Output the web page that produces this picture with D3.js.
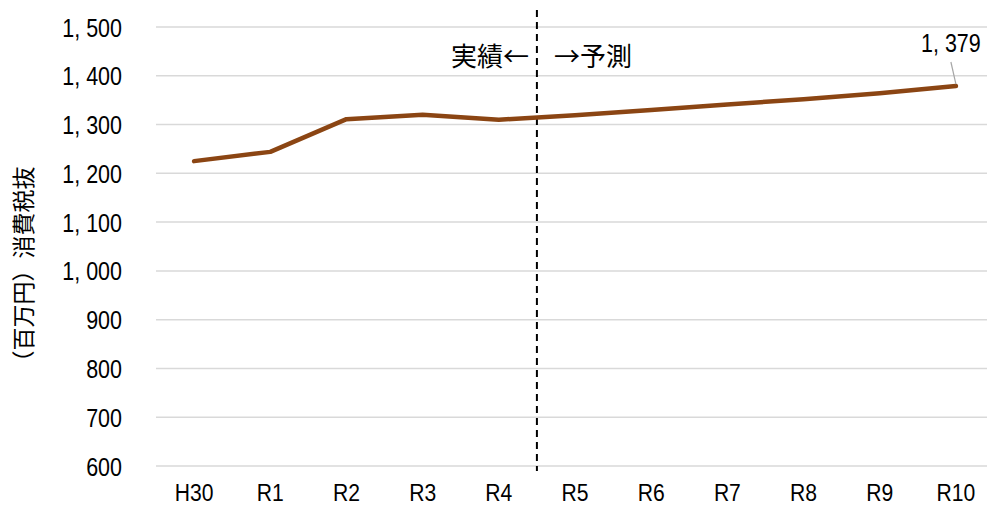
<!DOCTYPE html>
<html><head><meta charset="utf-8">
<script src="https://cdn.jsdelivr.net/npm/d3@7"></script>
<style>
body{margin:0;background:#fff;}
svg{display:block;}
</style></head>
<body>
<svg id="chart" width="987" height="506"></svg>
<script>
const categories = ["H30","R1","R2","R3","R4","R5","R6","R7","R8","R9","R10"];
const values = [1225,1244,1311,1320,1310,1319,1330,1341,1352,1364,1379];
const yTicks = [600,700,800,900,1000,1100,1200,1300,1400,1500];
const yTitle = "（百万円）消費税抜";
const actualLabel = "実績←";
const forecastLabel = "→予測";

(function(){
const svg = d3.select("#chart");
const numFont = "'Liberation Sans',Arial,sans-serif";
const numSize = 25, sx = 0.86;
const jpFont = "'Noto Sans CJK JP',sans-serif";
const mLeft = 156, mRight = 994, mTop = 27, mBottom = 466;
const fmt = d => d3.format(",")(d).replace(",", ", ");

const x = d3.scaleBand().domain(categories).range([mLeft, mRight]);
const y = d3.scaleLinear().domain([600,1500]).range([mBottom, mTop]);

// gridlines
svg.append("g").selectAll("line").data(yTicks).join("line")
  .attr("x1", mLeft).attr("x2", mRight)
  .attr("y1", d=>y(d)).attr("y2", d=>y(d))
  .attr("stroke", "#d9d9d9").attr("stroke-width", 1.5);

// y axis labels
const yAxis = svg.append("g").attr("transform", `translate(${mLeft},0)`)
  .call(d3.axisLeft(y).tickValues(yTicks).tickSize(0).tickPadding(34).tickFormat(fmt));
yAxis.select(".domain").remove();
yAxis.selectAll("text")
  .attr("x", 0).attr("dy", "0.36em")
  .attr("transform", `translate(-34,0) scale(${sx},1)`)
  .attr("font-family", numFont).attr("font-size", numSize).attr("fill", "#000");

// x axis labels
const xAxis = svg.append("g").attr("transform", `translate(0,${mBottom})`)
  .call(d3.axisBottom(x).tickSize(0));
xAxis.select(".domain").remove();
xAxis.selectAll("text")
  .attr("y", 0).attr("dy", 0)
  .attr("transform", `translate(0,35) scale(0.88,1)`)
  .attr("font-family", numFont).attr("font-size", 24).attr("fill", "#000");

// y title
svg.append("text")
  .attr("transform", `translate(32,270) rotate(-90)`)
  .attr("text-anchor", "middle")
  .attr("font-family", jpFont).attr("font-size", 23).attr("fill", "#000")
  .text(yTitle);

// divider
const divX = (x("R4") + x.bandwidth()/2 + x("R5") + x.bandwidth()/2) / 2;
svg.append("line")
  .attr("x1", divX).attr("x2", divX).attr("y1", 10).attr("y2", 471)
  .attr("stroke", "#000").attr("stroke-width", 2).attr("stroke-dasharray", "7,5");

svg.append("text").attr("x", divX - 8).attr("y", 66).attr("text-anchor", "end")
  .attr("font-family", jpFont).attr("font-size", 26).attr("fill", "#000").text(actualLabel);
svg.append("text").attr("x", divX + 17).attr("y", 66).attr("text-anchor", "start")
  .attr("font-family", jpFont).attr("font-size", 26).attr("fill", "#000").text(forecastLabel);

// line
const line = d3.line().x((d,i)=>x(categories[i]) + x.bandwidth()/2).y(d=>y(d));
svg.append("path").datum(values)
  .attr("d", line).attr("fill", "none")
  .attr("stroke", "#8B4513").attr("stroke-width", 4.5).attr("stroke-linejoin", "round").attr("stroke-linecap", "round");

// last label with leader
const lx = x("R10") + x.bandwidth()/2, ly = y(values[values.length-1]);
svg.append("line").attr("x1", lx - 5).attr("y1", 62).attr("x2", lx).attr("y2", ly - 2)
  .attr("stroke", "#a6a6a6").attr("stroke-width", 1.2);
svg.append("text").attr("x", 0).attr("y", 0).attr("text-anchor", "middle")
  .attr("transform", `translate(${lx - 5},52) scale(${sx},1)`)
  .attr("font-family", numFont).attr("font-size", numSize).attr("fill", "#000")
  .text(fmt(values[values.length-1]));
})();
</script>
</body></html>
